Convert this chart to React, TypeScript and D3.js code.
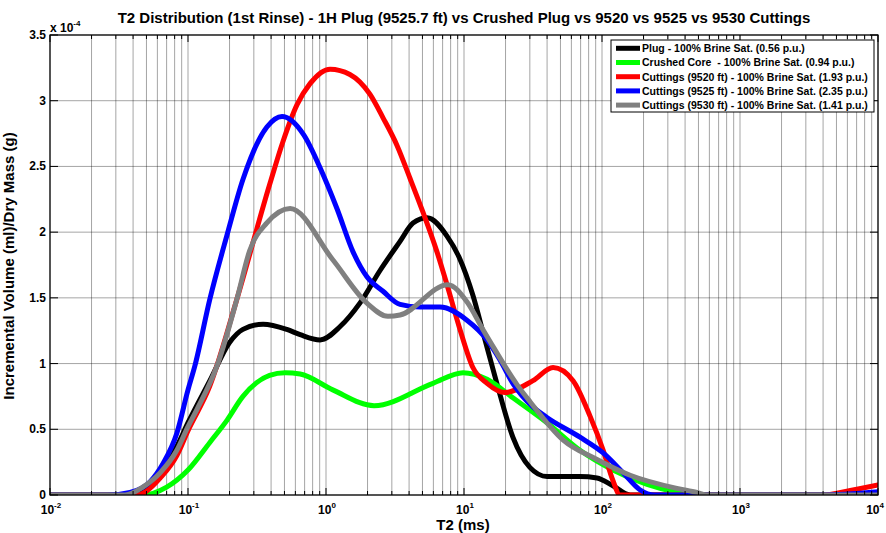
import React from "react";
import * as d3 from "d3";

// Figure size and plot frame
const W = 886;
const H = 533;
const PL = 50;
const PR = 878;
const PT = 35;
const PB = 495;

// Axis setup (values in units of 1e-4)
const xDomain: [number, number] = [1e-2, 1e4];
const yDomain: [number, number] = [0, 3.5];
const yTicks = [0, 0.5, 1, 1.5, 2, 2.5, 3, 3.5];
const yTickLabels = ["0", "0.5", "1", "1.5", "2", "2.5", "3", "3.5"];
const xDecades = [-2, -1, 0, 1, 2, 3, 4];

const titleText =
  "T2 Distribution (1st Rinse) - 1H Plug (9525.7 ft) vs Crushed Plug vs 9520 vs 9525 vs 9530 Cuttings";
const xTitle = "T2 (ms)";
const yTitle = "Incremental Volume (ml)/Dry Mass (g)";

// Series: [T2 (ms), incremental volume (x1e-4 ml/g)]
const plugData: [number, number][] = [
  [0.01, 0], [0.04, 0], [0.047, 0.03], [0.063, 0.19], [0.083, 0.37], [0.1, 0.55],
  [0.144, 0.87], [0.2, 1.16], [0.25, 1.26], [0.35, 1.3], [0.52, 1.26], [0.65, 1.22],
  [0.906, 1.18], [1.26, 1.28], [1.76, 1.46], [2.47, 1.71], [3.44, 1.93], [4.27, 2.07],
  [5.4, 2.11], [7.53, 1.97], [9.3, 1.8], [11.6, 1.52], [14.2, 1.18], [17.3, 0.85],
  [22.6, 0.44], [30, 0.21], [40, 0.14], [69, 0.14], [92, 0.13], [120, 0.07], [160, 0],
  [10000, 0],
];
const crushedData: [number, number][] = [
  [0.01, 0], [0.047, 0], [0.07, 0.06], [0.1, 0.19], [0.144, 0.4], [0.192, 0.57],
  [0.25, 0.75], [0.39, 0.91], [0.505, 0.93], [0.65, 0.92], [1.12, 0.8], [2.23, 0.68],
  [5.96, 0.85], [9.84, 0.93], [14.7, 0.88], [22.6, 0.74], [39.9, 0.55], [69.3, 0.34],
  [120, 0.19], [212, 0.08], [349, 0.02], [488, 0], [10000, 0],
];
const cut9520Data: [number, number][] = [
  [0.01, 0], [0.043, 0], [0.05, 0.03], [0.063, 0.13], [0.083, 0.3], [0.1, 0.49],
  [0.144, 0.83], [0.226, 1.49], [0.39, 2.36], [0.488, 2.69], [0.617, 2.97], [0.766, 3.13],
  [1.07, 3.24], [1.49, 3.2], [2.08, 3.05], [2.59, 2.87], [3.27, 2.66], [4.06, 2.41],
  [5.05, 2.15], [6.37, 1.85], [7.53, 1.6], [9.35, 1.26], [11.6, 0.97], [14.7, 0.85],
  [19.8, 0.78], [31.6, 0.87], [44.2, 0.97], [61.7, 0.87], [81.9, 0.6], [102, 0.34],
  [120, 0.11], [135, 0], [3900, 0], [6300, 0.035], [10000, 0.076],
];
const cut9525Data: [number, number][] = [
  [0.01, 0], [0.026, 0], [0.038, 0.02], [0.053, 0.1], [0.066, 0.24], [0.083, 0.47],
  [0.1, 0.8], [0.112, 0.98], [0.144, 1.49], [0.192, 1.98], [0.25, 2.4], [0.373, 2.8],
  [0.48, 2.88], [0.69, 2.74], [0.906, 2.49], [1.2, 2.18], [1.57, 1.85], [1.98, 1.66],
  [2.59, 1.55], [3.44, 1.45], [4.8, 1.43], [6.7, 1.43], [10.5, 1.33], [14.7, 1.18],
  [18.2, 1.03], [22.6, 0.85], [31.6, 0.67], [39.9, 0.59], [69.3, 0.44], [102, 0.32],
  [142, 0.17], [188, 0.04], [242, 0], [3900, 0], [10000, 0.025],
];
const cut9530Data: [number, number][] = [
  [0.01, 0], [0.035, 0], [0.047, 0.06], [0.063, 0.17], [0.083, 0.34], [0.1, 0.52],
  [0.116, 0.65], [0.162, 0.98], [0.226, 1.49], [0.28, 1.86], [0.373, 2.07], [0.55, 2.18],
  [1.12, 1.79], [1.98, 1.46], [2.81, 1.36], [3.44, 1.37], [7.65, 1.6], [10.5, 1.47],
  [13.7, 1.26], [15.4, 1.17], [24.2, 0.84], [30.1, 0.71], [52.1, 0.42], [92, 0.27],
  [160, 0.15], [349, 0.05], [488, 0.02], [577, 0], [10000, 0],
];

const seriesData = [plugData, crushedData, cut9520Data, cut9525Data, cut9530Data];
const seriesNames = [
  "Plug - 100% Brine Sat. (0.56 p.u.)",
  "Crushed Core  - 100% Brine Sat. (0.94 p.u.)",
  "Cuttings (9520 ft) - 100% Brine Sat. (1.93 p.u.)",
  "Cuttings (9525 ft) - 100% Brine Sat. (2.35 p.u.)",
  "Cuttings (9530 ft) - 100% Brine Sat. (1.41 p.u.)",
];
const seriesColors = ["#000000", "#00ff00", "#ff0000", "#0000ff", "#808080"];

const FONT = "'Liberation Sans', Arial, Helvetica, sans-serif";

export default function App() {
  const x = d3.scaleLog().domain(xDomain).range([PL, PR]);
  const y = d3.scaleLinear().domain(yDomain).range([PB, PT]);

  const line = d3
    .line<[number, number]>()
    .x((d) => x(d[0]))
    .y((d) => y(d[1]))
    .curve(d3.curveMonotoneX);

  const majorX = xDecades.map((e) => Math.pow(10, e));
  const minorX: number[] = [];
  xDecades.slice(0, -1).forEach((e) => {
    for (let m = 2; m <= 9; m++) minorX.push(m * Math.pow(10, e));
  });
  const allX = [...majorX, ...minorX];

  const legX = 611;
  const legY = 40;
  const legW = 263;
  const legH = 72;
  const rowH = 14.2;

  return (
    <svg
      width={W}
      height={H}
      style={{ position: "fixed", left: 0, top: 0, background: "#fff" }}
      fontFamily={FONT}
    >
      <rect x={0} y={0} width={W} height={H} fill="#fff" />
      <defs>
        <clipPath id="plotClip">
          <rect x={PL} y={PT - 3} width={PR - PL} height={PB - PT + 3} />
        </clipPath>
      </defs>

      {/* grid */}
      <g stroke="#000" strokeOpacity={0.45} strokeWidth={0.8}>
        {allX.map((v, i) => (
          <line key={"gx" + i} x1={x(v)} x2={x(v)} y1={PT} y2={PB} />
        ))}
        {yTicks.map((v, i) => (
          <line key={"gy" + i} x1={PL} x2={PR} y1={y(v)} y2={y(v)} />
        ))}
      </g>

      {/* curves */}
      <g clipPath="url(#plotClip)" fill="none" strokeWidth={5} strokeLinejoin="round" strokeLinecap="round">
        {seriesData.map((d, i) => (
          <path key={"s" + i} d={line(d) || ""} stroke={seriesColors[i]} />
        ))}
      </g>

      {/* frame and ticks */}
      <rect x={PL} y={PT} width={PR - PL} height={PB - PT} fill="none" stroke="#000" strokeWidth={1.2} />
      <g stroke="#000" strokeWidth={1}>
        {majorX.map((v, i) => (
          <g key={"mt" + i}>
            <line x1={x(v)} x2={x(v)} y1={PB} y2={PB - 7} />
            <line x1={x(v)} x2={x(v)} y1={PT} y2={PT + 7} />
          </g>
        ))}
        {minorX.map((v, i) => (
          <g key={"nt" + i}>
            <line x1={x(v)} x2={x(v)} y1={PB} y2={PB - 4} />
            <line x1={x(v)} x2={x(v)} y1={PT} y2={PT + 4} />
          </g>
        ))}
        {yTicks.map((v, i) => (
          <g key={"yt" + i}>
            <line x1={PL} x2={PL + 8} y1={y(v)} y2={y(v)} />
            <line x1={PR} x2={PR - 8} y1={y(v)} y2={y(v)} />
          </g>
        ))}
      </g>

      {/* y tick labels */}
      <g fontSize={12} fontWeight="bold" textAnchor="end">
        {yTicks.map((v, i) => (
          <text key={"yl" + i} x={PL - 4} y={y(v) + 4}>
            {yTickLabels[i]}
          </text>
        ))}
      </g>
      <text x={PL} y={32} fontSize={12} fontWeight="bold">
        x 10
        <tspan fontSize={8} dy={-6}>
          -4
        </tspan>
      </text>

      {/* x tick labels */}
      <g fontSize={12} fontWeight="bold">
        {xDecades.map((e, i) => {
          const last = i === xDecades.length - 1;
          return (
            <text
              key={"xl" + i}
              x={last ? 884 : x(Math.pow(10, e)) + 1}
              y={514}
              textAnchor={last ? "end" : "middle"}
            >
              10
              <tspan fontSize={8} dy={-6}>
                {String(e)}
              </tspan>
            </text>
          );
        })}
      </g>

      {/* titles */}
      <text x={(PL + PR) / 2} y={23} fontSize={15} fontWeight="bold" textAnchor="middle">
        {titleText}
      </text>
      <text x={(PL + PR) / 2 - 1} y={530} fontSize={15} fontWeight="bold" textAnchor="middle">
        {xTitle}
      </text>
      <text
        transform={`translate(14,${(PT + PB) / 2 + 1}) rotate(-90)`}
        fontSize={15}
        fontWeight="bold"
        textAnchor="middle"
      >
        {yTitle}
      </text>

      {/* legend */}
      <rect x={legX} y={legY} width={legW} height={legH} fill="#fff" stroke="#000" strokeWidth={1} />
      {seriesNames.map((name, i) => {
        const cy = legY + 8.3 + i * rowH;
        return (
          <g key={"lg" + i}>
            <line x1={legX + 5} x2={legX + 29} y1={cy} y2={cy} stroke={seriesColors[i]} strokeWidth={5} />
            <text
              x={legX + 31}
              y={cy + 3.8}
              fontSize={10.5}
              fontWeight="bold"
              style={{ whiteSpace: "pre" }}
            >
              {name}
            </text>
          </g>
        );
      })}
    </svg>
  );
}
